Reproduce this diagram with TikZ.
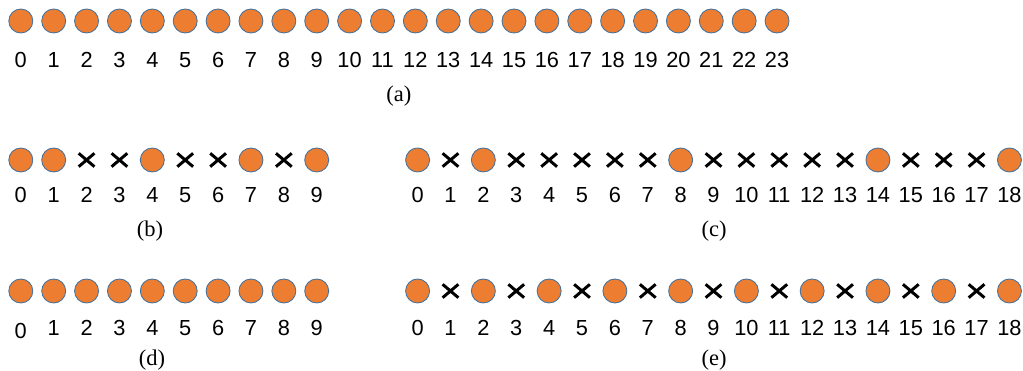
\documentclass[tikz,border=0pt]{standalone}
\usepackage{fontspec}
\usepackage{tikz}
\usepackage{xcolor}
\usetikzlibrary{shapes.misc}
\newfontfamily\numfont{Liberation Sans}
\newfontfamily\capfont{Liberation Serif}
\definecolor{dotfill}{HTML}{ED7D31}
\definecolor{dotline}{HTML}{41719C}
\tikzset{
  dot/.style={circle,draw=dotline,fill=dotfill,line width=0.6pt,minimum size=0.6cm,inner sep=0pt},
  gone/.style={cross out,draw=black,line width=2.1pt,minimum width=0.32cm,minimum height=0.26cm,inner sep=0pt},
  num/.style={font=\numfont\fontsize{15.5}{18}\selectfont,inner sep=0pt},
  subcap/.style={font=\capfont\fontsize{16}{19}\selectfont,inner sep=0pt}
}
\begin{document}
\begin{tikzpicture}[x=1cm,y=1cm]
\useasboundingbox (0,0) rectangle (25.575,9.275);
% (a)
\node[dot] (a0) at (0.52,8.75) {};
\node[dot] (a1) at (1.342,8.75) {};
\node[dot] (a2) at (2.164,8.75) {};
\node[dot] (a3) at (2.986,8.75) {};
\node[dot] (a4) at (3.808,8.75) {};
\node[dot] (a5) at (4.63,8.75) {};
\node[dot] (a6) at (5.452,8.75) {};
\node[dot] (a7) at (6.274,8.75) {};
\node[dot] (a8) at (7.096,8.75) {};
\node[dot] (a9) at (7.918,8.75) {};
\node[dot] (a10) at (8.74,8.75) {};
\node[dot] (a11) at (9.562,8.75) {};
\node[dot] (a12) at (10.384,8.75) {};
\node[dot] (a13) at (11.206,8.75) {};
\node[dot] (a14) at (12.028,8.75) {};
\node[dot] (a15) at (12.85,8.75) {};
\node[dot] (a16) at (13.672,8.75) {};
\node[dot] (a17) at (14.494,8.75) {};
\node[dot] (a18) at (15.316,8.75) {};
\node[dot] (a19) at (16.138,8.75) {};
\node[dot] (a20) at (16.96,8.75) {};
\node[dot] (a21) at (17.782,8.75) {};
\node[dot] (a22) at (18.604,8.75) {};
\node[dot] (a23) at (19.426,8.75) {};
\node[num] (na0) at (0.52,7.775) {0};
\node[num] (na1) at (1.342,7.775) {1};
\node[num] (na2) at (2.164,7.775) {2};
\node[num] (na3) at (2.986,7.775) {3};
\node[num] (na4) at (3.808,7.775) {4};
\node[num] (na5) at (4.63,7.775) {5};
\node[num] (na6) at (5.452,7.775) {6};
\node[num] (na7) at (6.274,7.775) {7};
\node[num] (na8) at (7.096,7.775) {8};
\node[num] (na9) at (7.918,7.775) {9};
\node[num] (na10) at (8.74,7.775) {10};
\node[num] (na11) at (9.562,7.775) {11};
\node[num] (na12) at (10.384,7.775) {12};
\node[num] (na13) at (11.206,7.775) {13};
\node[num] (na14) at (12.028,7.775) {14};
\node[num] (na15) at (12.85,7.775) {15};
\node[num] (na16) at (13.672,7.775) {16};
\node[num] (na17) at (14.494,7.775) {17};
\node[num] (na18) at (15.316,7.775) {18};
\node[num] (na19) at (16.138,7.775) {19};
\node[num] (na20) at (16.96,7.775) {20};
\node[num] (na21) at (17.782,7.775) {21};
\node[num] (na22) at (18.604,7.775) {22};
\node[num] (na23) at (19.426,7.775) {23};
\node[subcap] (capa) at (9.97,6.875) {(a)};
% (b)
\node[dot] (b0) at (0.52,5.275) {};
\node[dot] (b1) at (1.342,5.275) {};
\node[gone] (b2) at (2.164,5.275) {};
\node[gone] (b3) at (2.986,5.275) {};
\node[dot] (b4) at (3.808,5.275) {};
\node[gone] (b5) at (4.63,5.275) {};
\node[gone] (b6) at (5.452,5.275) {};
\node[dot] (b7) at (6.274,5.275) {};
\node[gone] (b8) at (7.096,5.275) {};
\node[dot] (b9) at (7.918,5.275) {};
\node[num] (nb0) at (0.52,4.4) {0};
\node[num] (nb1) at (1.342,4.4) {1};
\node[num] (nb2) at (2.164,4.4) {2};
\node[num] (nb3) at (2.986,4.4) {3};
\node[num] (nb4) at (3.808,4.4) {4};
\node[num] (nb5) at (4.63,4.4) {5};
\node[num] (nb6) at (5.452,4.4) {6};
\node[num] (nb7) at (6.274,4.4) {7};
\node[num] (nb8) at (7.096,4.4) {8};
\node[num] (nb9) at (7.918,4.4) {9};
\node[subcap] (capb) at (3.75,3.5) {(b)};
% (c)
\node[dot] (c0) at (10.44,5.275) {};
\node[gone] (c1) at (11.262,5.275) {};
\node[dot] (c2) at (12.084,5.275) {};
\node[gone] (c3) at (12.906,5.275) {};
\node[gone] (c4) at (13.728,5.275) {};
\node[gone] (c5) at (14.55,5.275) {};
\node[gone] (c6) at (15.372,5.275) {};
\node[gone] (c7) at (16.194,5.275) {};
\node[dot] (c8) at (17.016,5.275) {};
\node[gone] (c9) at (17.838,5.275) {};
\node[gone] (c10) at (18.66,5.275) {};
\node[gone] (c11) at (19.482,5.275) {};
\node[gone] (c12) at (20.304,5.275) {};
\node[gone] (c13) at (21.126,5.275) {};
\node[dot] (c14) at (21.948,5.275) {};
\node[gone] (c15) at (22.77,5.275) {};
\node[gone] (c16) at (23.592,5.275) {};
\node[gone] (c17) at (24.414,5.275) {};
\node[dot] (c18) at (25.236,5.275) {};
\node[num] (nc0) at (10.44,4.4) {0};
\node[num] (nc1) at (11.262,4.4) {1};
\node[num] (nc2) at (12.084,4.4) {2};
\node[num] (nc3) at (12.906,4.4) {3};
\node[num] (nc4) at (13.728,4.4) {4};
\node[num] (nc5) at (14.55,4.4) {5};
\node[num] (nc6) at (15.372,4.4) {6};
\node[num] (nc7) at (16.194,4.4) {7};
\node[num] (nc8) at (17.016,4.4) {8};
\node[num] (nc9) at (17.838,4.4) {9};
\node[num] (nc10) at (18.66,4.4) {10};
\node[num] (nc11) at (19.482,4.4) {11};
\node[num] (nc12) at (20.304,4.4) {12};
\node[num] (nc13) at (21.126,4.4) {13};
\node[num] (nc14) at (21.948,4.4) {14};
\node[num] (nc15) at (22.77,4.4) {15};
\node[num] (nc16) at (23.592,4.4) {16};
\node[num] (nc17) at (24.414,4.4) {17};
\node[num] (nc18) at (25.236,4.4) {18};
\node[subcap] (capc) at (17.85,3.5) {(c)};
% (d)
\node[dot] (d0) at (0.52,2.0) {};
\node[dot] (d1) at (1.342,2.0) {};
\node[dot] (d2) at (2.164,2.0) {};
\node[dot] (d3) at (2.986,2.0) {};
\node[dot] (d4) at (3.808,2.0) {};
\node[dot] (d5) at (4.63,2.0) {};
\node[dot] (d6) at (5.452,2.0) {};
\node[dot] (d7) at (6.274,2.0) {};
\node[dot] (d8) at (7.096,2.0) {};
\node[dot] (d9) at (7.918,2.0) {};
\node[num] (nd0) at (0.52,1.0) {0};
\node[num] (nd1) at (1.342,1.075) {1};
\node[num] (nd2) at (2.164,1.075) {2};
\node[num] (nd3) at (2.986,1.075) {3};
\node[num] (nd4) at (3.808,1.075) {4};
\node[num] (nd5) at (4.63,1.075) {5};
\node[num] (nd6) at (5.452,1.075) {6};
\node[num] (nd7) at (6.274,1.075) {7};
\node[num] (nd8) at (7.096,1.075) {8};
\node[num] (nd9) at (7.918,1.075) {9};
\node[subcap] (capd) at (3.8,0.275) {(d)};
% (e)
\node[dot] (e0) at (10.44,2.0) {};
\node[gone] (e1) at (11.262,2.0) {};
\node[dot] (e2) at (12.084,2.0) {};
\node[gone] (e3) at (12.906,2.0) {};
\node[dot] (e4) at (13.728,2.0) {};
\node[gone] (e5) at (14.55,2.0) {};
\node[dot] (e6) at (15.372,2.0) {};
\node[gone] (e7) at (16.194,2.0) {};
\node[dot] (e8) at (17.016,2.0) {};
\node[gone] (e9) at (17.838,2.0) {};
\node[dot] (e10) at (18.66,2.0) {};
\node[gone] (e11) at (19.482,2.0) {};
\node[dot] (e12) at (20.304,2.0) {};
\node[gone] (e13) at (21.126,2.0) {};
\node[dot] (e14) at (21.948,2.0) {};
\node[gone] (e15) at (22.77,2.0) {};
\node[dot] (e16) at (23.592,2.0) {};
\node[gone] (e17) at (24.414,2.0) {};
\node[dot] (e18) at (25.236,2.0) {};
\node[num] (ne0) at (10.44,1.075) {0};
\node[num] (ne1) at (11.262,1.075) {1};
\node[num] (ne2) at (12.084,1.075) {2};
\node[num] (ne3) at (12.906,1.075) {3};
\node[num] (ne4) at (13.728,1.075) {4};
\node[num] (ne5) at (14.55,1.075) {5};
\node[num] (ne6) at (15.372,1.075) {6};
\node[num] (ne7) at (16.194,1.075) {7};
\node[num] (ne8) at (17.016,1.075) {8};
\node[num] (ne9) at (17.838,1.075) {9};
\node[num] (ne10) at (18.66,1.075) {10};
\node[num] (ne11) at (19.482,1.075) {11};
\node[num] (ne12) at (20.304,1.075) {12};
\node[num] (ne13) at (21.126,1.075) {13};
\node[num] (ne14) at (21.948,1.075) {14};
\node[num] (ne15) at (22.77,1.075) {15};
\node[num] (ne16) at (23.592,1.075) {16};
\node[num] (ne17) at (24.414,1.075) {17};
\node[num] (ne18) at (25.236,1.075) {18};
\node[subcap] (cape) at (17.85,0.275) {(e)};
\end{tikzpicture}
\end{document}
